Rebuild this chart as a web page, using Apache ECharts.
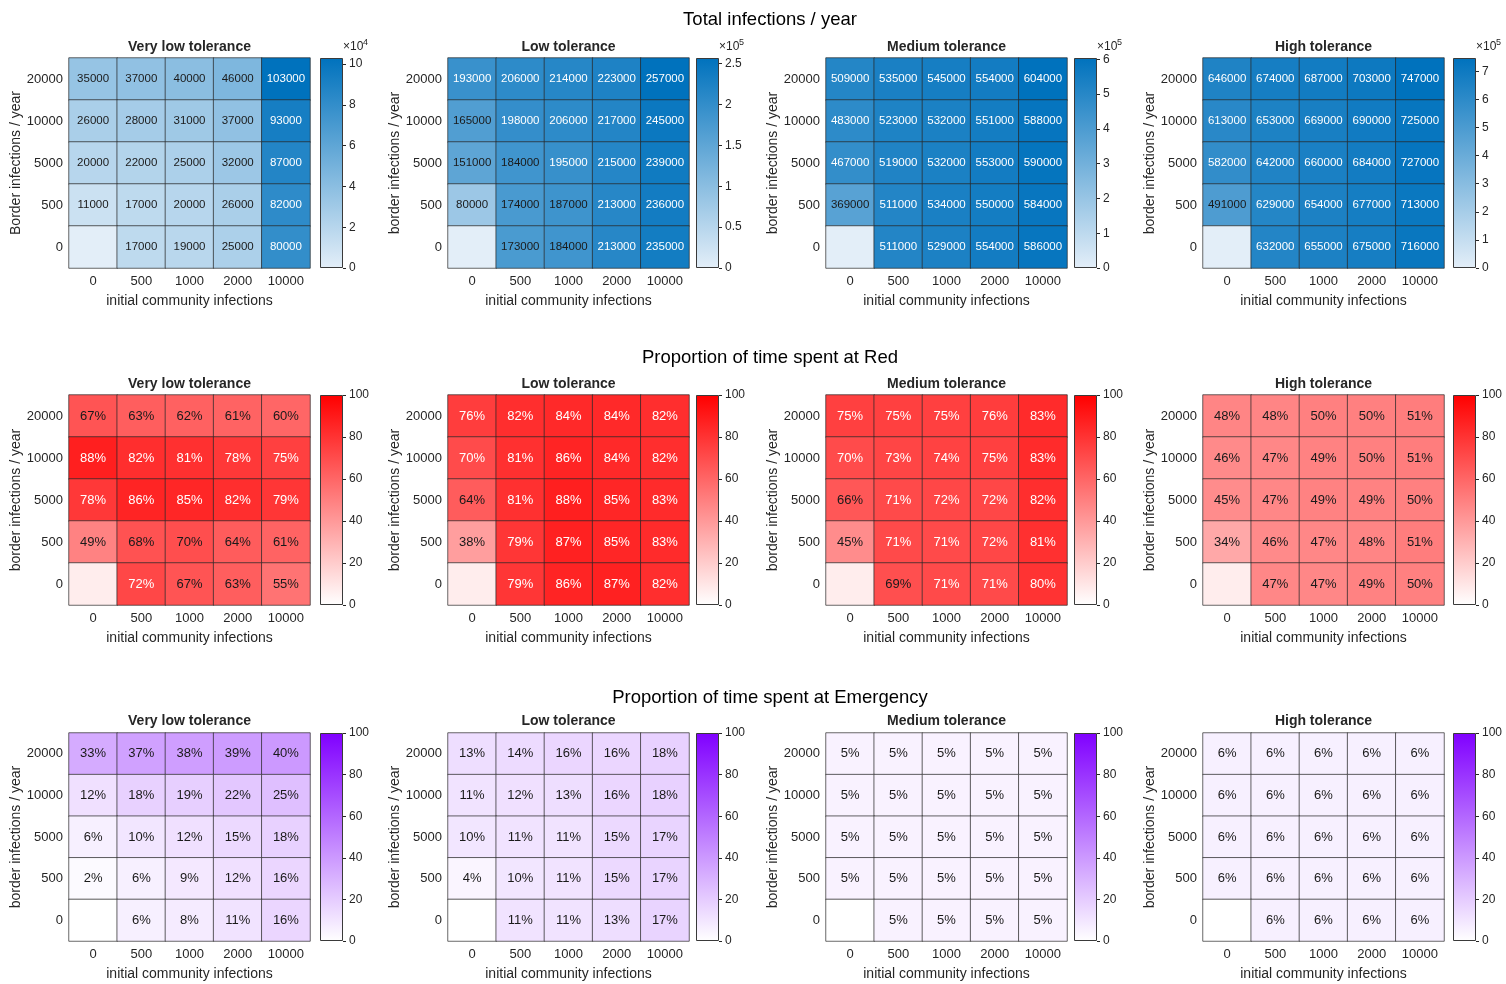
<!DOCTYPE html>
<html><head><meta charset="utf-8">
<script src="https://cdn.jsdelivr.net/npm/echarts@6/dist/echarts.min.js"></script>
<style>html,body{margin:0;padding:0;background:#fff}#c{width:1506px;height:984px}</style>
</head><body><div id="c"></div><script>
// ---- categories ----
const initialCommunity = ['0', '500', '1000', '2000', '10000'];
const borderInfections = ['20000', '10000', '5000', '500', '0']; // rows, top to bottom
const tolerances = ['Very low tolerance', 'Low tolerance', 'Medium tolerance', 'High tolerance'];
const rowTitles = ['Total infections / year', 'Proportion of time spent at Red', 'Proportion of time spent at Emergency'];

// ---- Total infections / year (rows top to bottom: 20000,10000,5000,500,0) ----
const totalVeryLow = [
  [35000, 37000, 40000, 46000, 103000],
  [26000, 28000, 31000, 37000, 93000],
  [20000, 22000, 25000, 32000, 87000],
  [11000, 17000, 20000, 26000, 82000],
  [0, 17000, 19000, 25000, 80000]
];
const totalLow = [
  [193000, 206000, 214000, 223000, 257000],
  [165000, 198000, 206000, 217000, 245000],
  [151000, 184000, 195000, 215000, 239000],
  [80000, 174000, 187000, 213000, 236000],
  [0, 173000, 184000, 213000, 235000]
];
const totalMedium = [
  [509000, 535000, 545000, 554000, 604000],
  [483000, 523000, 532000, 551000, 588000],
  [467000, 519000, 532000, 553000, 590000],
  [369000, 511000, 534000, 550000, 584000],
  [0, 511000, 529000, 554000, 586000]
];
const totalHigh = [
  [646000, 674000, 687000, 703000, 747000],
  [613000, 653000, 669000, 690000, 725000],
  [582000, 642000, 660000, 684000, 727000],
  [491000, 629000, 654000, 677000, 713000],
  [0, 632000, 655000, 675000, 716000]
];
// ---- Proportion of time at Red (%) ----
const redVeryLow = [
  [67, 63, 62, 61, 60],
  [88, 82, 81, 78, 75],
  [78, 86, 85, 82, 79],
  [49, 68, 69.6, 64, 61],
  [7, 72, 67, 63, 55]
];
const redLow = [
  [76, 82, 84, 84, 82],
  [70.4, 81, 86, 84, 82],
  [64, 81, 88, 85, 83],
  [38, 79, 87, 85, 83],
  [7, 79, 86, 87, 82]
];
const redMedium = [
  [75, 75, 75, 76, 83],
  [70.4, 73, 74, 75, 83],
  [66, 71, 72, 72, 82],
  [45, 71, 71, 72, 81],
  [7, 69, 71, 71, 80]
];
const redHigh = [
  [48, 48, 50, 50, 51],
  [46, 47, 49, 50, 51],
  [45, 47, 49, 49, 50],
  [34, 46, 47, 48, 51],
  [7, 47, 47, 49, 50]
];
// ---- Proportion of time at Emergency (%) ----
const emergVeryLow = [
  [33, 37, 38, 39, 40],
  [12, 18, 19, 22, 25],
  [6, 10, 12, 15, 18],
  [2, 6, 9, 12, 16],
  [0, 6, 8, 11, 16]
];
const emergLow = [
  [13, 14, 16, 16, 18],
  [11, 12, 13, 16, 18],
  [10, 11, 11, 15, 17],
  [4, 10, 11, 15, 17],
  [0, 11, 11, 13, 17]
];
const emergMedium = [
  [5, 5, 5, 5, 5],
  [5, 5, 5, 5, 5],
  [5, 5, 5, 5, 5],
  [5, 5, 5, 5, 5],
  [0, 5, 5, 5, 5]
];
const emergHigh = [
  [6, 6, 6, 6, 6],
  [6, 6, 6, 6, 6],
  [6, 6, 6, 6, 6],
  [6, 6, 6, 6, 6],
  [0, 6, 6, 6, 6]
];
// colour bar tick settings for total infections panels
const totalTickInterval = [20000, 50000, 100000, 100000];
const totalTickExponent = [4, 5, 5, 5];

// ---- layout / style ----
const FONT = '"Liberation Sans", Arial, Helvetica, sans-serif';
const hmLeft = [69, 448, 826, 1203];
const hmWidth = 241;
const cbLeft = [320, 696, 1074, 1453];
const cbWidth = 23;
const rowTop = [58, 395, 733];
const rowHeight = [210, 210, 208];
const rowTitleY = [20, 358, 698];
const subTitleY = [47, 384, 721];

const rows = [
  { panels: [totalVeryLow, totalLow, totalMedium, totalHigh], low: '#e3eef8', high: '#0072bd', thr: 0.74,
    fmt: v => String(v), size: 11.5, fixedMax: null },
  { panels: [redVeryLow, redLow, redMedium, redHigh], low: '#ffffff', high: '#ff0000', thr: 0.70,
    fmt: v => Math.round(v) + '%', size: 13, fixedMax: 100 },
  { panels: [emergVeryLow, emergLow, emergMedium, emergHigh], low: '#ffffff', high: '#8000ff', thr: 0.70,
    fmt: v => Math.round(v) + '%', size: 13, fixedMax: 100 }
];

const grid = [], xAxis = [], yAxis = [], series = [], visualMap = [], graphic = [];
const yCats = borderInfections.slice().reverse();

rows.forEach((row, ri) => {
  graphic.push({ type: 'text', x: 770, y: rowTitleY[ri], silent: true,
    style: { text: rowTitles[ri], font: '18.5px ' + FONT, fill: '#000', align: 'center', verticalAlign: 'middle',
      textAlign: 'center', textVerticalAlign: 'middle' } });
  row.panels.forEach((mat, pi) => {
    const flat = mat.flat();
    const M = row.fixedMax !== null ? row.fixedMax : Math.max(...flat);
    const gi = grid.length;
    // heatmap grid
    grid.push({ left: hmLeft[pi], top: rowTop[ri], width: hmWidth, height: rowHeight[ri], containLabel: false });
    xAxis.push({ type: 'category', gridIndex: gi, data: initialCommunity, position: 'bottom',
      axisTick: { show: false }, axisLine: { show: false }, splitLine: { show: false },
      axisLabel: { fontSize: 13, color: '#262626', fontFamily: FONT, margin: 7 },
      name: 'initial community infections', nameLocation: 'middle', nameGap: 26,
      nameTextStyle: { fontSize: 14, color: '#262626', fontFamily: FONT } });
    yAxis.push({ type: 'category', gridIndex: gi, data: yCats,
      axisTick: { show: false }, axisLine: { show: false }, splitLine: { show: false },
      axisLabel: { fontSize: 13, color: '#262626', fontFamily: FONT, margin: 6 },
      name: (ri === 0 && pi === 0) ? 'Border infections / year' : 'border infections / year',
      nameLocation: 'middle', nameGap: 41,
      nameTextStyle: { fontSize: 14, color: '#262626', fontFamily: FONT } });
    const data = [];
    mat.forEach((rowVals, r) => {
      rowVals.forEach((v, c) => {
        const isCorner = (r === mat.length - 1 && c === 0);
        data.push({ value: [c, mat.length - 1 - r, v],
          label: { show: !isCorner, color: (v / M >= row.thr) ? '#ffffff' : '#1a1a1a' } });
      });
    });
    const si = series.length;
    series.push({ type: 'heatmap', xAxisIndex: gi, yAxisIndex: gi, data: data, silent: true,
      label: { show: true, formatter: p => row.fmt(p.value[2]), fontSize: row.size, fontFamily: FONT },
      itemStyle: { borderColor: 'rgba(40,40,40,0.7)', borderWidth: 1 },
      emphasis: { disabled: true } });
    visualMap.push({ type: 'continuous', show: false, seriesIndex: si, dimension: 2, min: 0, max: M,
      inRange: { color: [row.low, row.high] } });
    // colour bar grid
    const ci = grid.length;
    grid.push({ left: cbLeft[pi], top: rowTop[ri], width: cbWidth, height: rowHeight[ri], containLabel: false });
    xAxis.push({ type: 'category', gridIndex: ci, data: ['cb'], show: false });
    const interval = ri === 0 ? totalTickInterval[pi] : 20;
    const expo = ri === 0 ? totalTickExponent[pi] : 0;
    yAxis.push({ type: 'value', gridIndex: ci, position: 'right', min: 0, max: M, interval: interval,
      axisLine: { show: false }, splitLine: { show: false },
      axisTick: { show: true, length: 3, lineStyle: { color: '#262626' } },
      axisLabel: { fontSize: 12, color: '#262626', fontFamily: FONT, margin: 6, showMaxLabel: ri !== 0,
        formatter: v => (Math.abs(v / interval - Math.round(v / interval)) > 1e-6) ? '' : String(+(v / Math.pow(10, expo)).toFixed(2)) } });
    series.push({ type: 'bar', xAxisIndex: ci, yAxisIndex: ci, data: [M], barWidth: '100%', silent: true,
      itemStyle: { borderColor: '#3a3a3a', borderWidth: 1,
        color: new echarts.graphic.LinearGradient(0, 1, 0, 0, [{ offset: 0, color: row.low }, { offset: 1, color: row.high }]) } });
    // panel title
    graphic.push({ type: 'text', x: hmLeft[pi] + hmWidth / 2, y: subTitleY[ri], silent: true,
      style: { text: tolerances[pi], font: 'bold 14px ' + FONT, fill: '#262626', align: 'center', verticalAlign: 'middle',
        textAlign: 'center', textVerticalAlign: 'middle' } });
    if (ri === 0) {
      graphic.push({ type: 'text', x: cbLeft[pi] + cbWidth, y: rowTop[ri] - 11, silent: true,
        style: { text: '×10', font: '12px ' + FONT, fill: '#262626', align: 'left', verticalAlign: 'middle',
          textAlign: 'left', textVerticalAlign: 'middle' } });
      graphic.push({ type: 'text', x: cbLeft[pi] + cbWidth + 20, y: rowTop[ri] - 15, silent: true,
        style: { text: String(expo), font: '9px ' + FONT, fill: '#262626', align: 'left', verticalAlign: 'middle',
          textAlign: 'left', textVerticalAlign: 'middle' } });
    }
  });
});

const chart = echarts.init(document.getElementById('c'), null, { renderer: 'canvas' });
chart.setOption({ animation: false, backgroundColor: '#ffffff', grid, xAxis, yAxis, series, visualMap, graphic });
</script></body></html>
